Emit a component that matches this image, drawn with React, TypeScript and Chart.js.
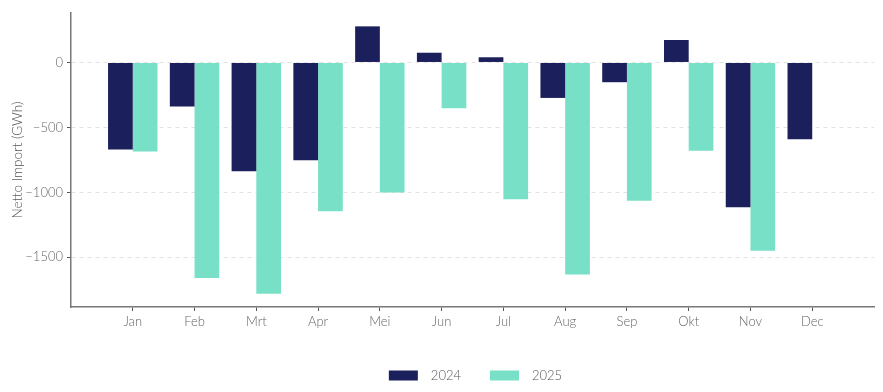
import React, { useEffect, useRef } from "react";
import { Chart, registerables } from "chart.js";

Chart.register(...registerables);

const months = ["Jan", "Feb", "Mrt", "Apr", "Mei", "Jun", "Jul", "Aug", "Sep", "Okt", "Nov", "Dec"];
const values2024: (number | null)[] = [-670, -340, -837, -752, 278, 75, 40, -273, -152, 173, -1115, -592];
const values2025: (number | null)[] = [-685, -1659, -1780, -1146, -1002, -353, -1054, -1633, -1064, -680, -1450, null];
const yTicks = [0, -500, -1000, -1500];

const FONT = "Lato, 'Noto Sans', sans-serif";

export default function App() {
  const ref = useRef<HTMLCanvasElement | null>(null);

  useEffect(() => {
    if (!ref.current) return;
    const all = [...values2024, ...values2025].filter((v): v is number => v !== null);
    const dMax = Math.max(...all);
    const dMin = Math.min(...all);
    const span = dMax - dMin;
    const yMax = dMax + 0.05 * span;
    const yMin = dMin - 0.05 * span;

    const labels = ["", ...months, ""];
    const pad = (arr: (number | null)[]) => [null, ...arr, null];

    const centerLegend = {
      id: "centerLegend",
      afterLayout(chart: any) {
        const lg = chart.legend;
        if (!lg) return;
        const ca = chart.chartArea;
        const shift = (ca.left + ca.right) / 2 - (lg.left + lg.right) / 2 + 3;
        lg.left += shift;
        lg.right += shift;
      },
    };

    const chart = new Chart(ref.current, {
      type: "bar",
      data: {
        labels,
        datasets: [
          {
            label: "\u20022024",
            data: pad(values2024),
            backgroundColor: "#1b1f5c",
            borderWidth: 0,
            categoryPercentage: 0.8,
            barPercentage: 1,
          },
          {
            label: "\u20022025",
            data: pad(values2025),
            backgroundColor: "#78e0c6",
            borderWidth: 0,
            categoryPercentage: 0.8,
            barPercentage: 1,
          },
        ],
      },
      options: {
        animation: false,
        responsive: true,
        maintainAspectRatio: false,
        layout: { padding: { top: 13, right: 9, left: 0, bottom: 0 } },
        plugins: {
          tooltip: { enabled: false },
          legend: {
            position: "bottom",
            labels: {
              boxWidth: 29,
              boxHeight: 10,
              padding: 29,
              color: "#555",
              font: { family: FONT, size: 13, weight: "300" },
            },
          },
        },
        scales: {
          x: {
            type: "category",
            offset: false,
            grid: {
              display: true,
              drawOnChartArea: false,
              drawTicks: true,
              tickLength: 4,
              tickColor: "#555",
              tickWidth: 1,
              offset: false,
            },
            border: { display: true, color: "#777", width: 1.5 },
            ticks: {
              color: "#666",
              padding: 3,
              maxRotation: 0,
              autoSkip: false,
              font: { family: FONT, size: 13, weight: "300" },
            },
            afterBuildTicks(scale: any) {
              scale.ticks = scale.ticks.filter((t: any) => t.value > 0 && t.value < labels.length - 1);
            },
            afterFit(scale: any) {
              scale.height = 33;
            },
          },
          y: {
            min: yMin,
            max: yMax,
            grid: {
              color: "#e2e2e2",
              lineWidth: 1,
              drawTicks: true,
              tickLength: 4,
              tickColor: "#555",
              tickBorderDash: [],
            },
            border: { display: true, color: "#777", width: 1.5, dash: [4, 4] },
            afterBuildTicks(scale: any) {
              scale.ticks = yTicks.map((v) => ({ value: v }));
            },
            ticks: {
              color: "#666",
              padding: 4,
              font: { family: FONT, size: 13, weight: "300" },
              callback: (v: any) => String(v).replace("-", "\u2212"),
            },
            title: {
              display: true,
              text: "Netto Import (GWh)",
              color: "#555",
              font: { family: FONT, size: 13.5, weight: "300" },
              padding: { top: 10, bottom: 0 },
            },
            afterFit(scale: any) {
              scale.width = 71;
            },
          },
        },
      },
      plugins: [centerLegend],
    });
    return () => chart.destroy();
  }, []);

  return (
    <div style={{ position: "fixed", left: 0, top: 0, width: 883, height: 392, background: "#fff" }}>
      <canvas ref={ref} />
    </div>
  );
}
